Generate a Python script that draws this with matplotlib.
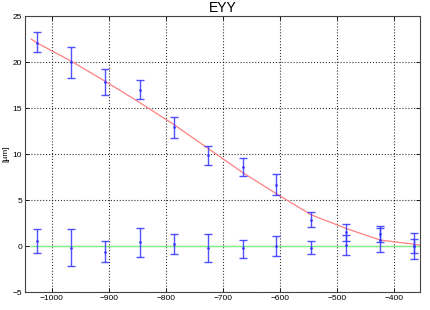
import numpy as np
import matplotlib
matplotlib.use('agg')
import matplotlib.pyplot as plt

plt.rcParams['font.family'] = ['Liberation Sans', 'DejaVu Sans']

# measurement positions
x = [-1026, -966, -906, -846, -786, -726, -666, -607, -546, -484, -425, -365]

# upper series (error bar low/high, centre)
up_mid = [22.1, 20.0, 17.8, 17.0, 12.9, 9.95, 8.6, 6.6, 2.85, 1.5, 1.3, 0.0]
up_lo = [21.05, 18.3, 16.4, 16.0, 11.7, 8.85, 7.6, 5.5, 2.1, 0.6, 0.4, -0.8]
up_hi = [23.3, 21.6, 19.2, 18.1, 14.0, 10.9, 9.6, 7.8, 3.7, 2.4, 2.2, 0.75]

# lower series
lo_mid = [0.55, -0.2, -0.6, 0.4, 0.2, -0.2, -0.25, 0.0, -0.25, 0.1, 0.65, 0.0]
lo_lo = [-0.8, -2.2, -1.7, -1.2, -0.9, -1.7, -1.3, -1.1, -0.9, -1.0, -0.7, -1.45]
lo_hi = [1.9, 1.8, 0.55, 2.0, 1.3, 1.3, 0.7, 1.1, 0.5, 1.2, 2.0, 1.4]

# fitted curve
fit_x = [-1036, -1026, -966, -906, -846, -786, -726, -666, -607, -546, -484, -425, -365, -356]
fit_y = [22.5, 22.1, 20.1, 17.9, 15.6, 13.2, 10.6, 8.0, 5.7, 3.4, 1.9, 0.65, 0.2, 0.1]

ref_x = [-1036, -356]
ref_y = [0, 0]

fig = plt.figure(figsize=(4.3, 3.1), dpi=100)
ax = fig.add_axes([0.058, 0.058, 0.919, 0.89])

ax.plot(fit_x, fit_y, color='#ff8080', lw=0.9, zorder=2)
ax.plot(ref_x, ref_y, color='#80ee80', lw=1.0, zorder=2)

for mid, lo, hi in [(up_mid, up_lo, up_hi), (lo_mid, lo_lo, lo_hi)]:
    mid = np.array(mid)
    err = [mid - np.array(lo), np.array(hi) - mid]
    ax.errorbar(x, mid, yerr=err, fmt='.', color='#3333ff', ms=2, lw=1.0,
                capsize=3, capthick=1.0, alpha=0.85, zorder=3)

ax.set_xlim(-1047, -355)
ax.set_ylim(-5, 25)
ax.set_xticks([-1000, -900, -800, -700, -600, -500, -400])
ax.set_yticks([-5, 0, 5, 10, 15, 20, 25])
ax.grid(True, color='black', linestyle=':', linewidth=0.8, alpha=0.8)
ax.tick_params(direction='in', length=3, labelsize=6, top=True, right=True,
               width=0.6, pad=2)
for s in ax.spines.values():
    s.set_linewidth(0.8)
    s.set_color('#444444')

ax.set_title('EYY', fontsize=10, pad=3)
ax.set_ylabel('[µm]', fontsize=6, labelpad=2)

fig.savefig('out.png', dpi=100)
